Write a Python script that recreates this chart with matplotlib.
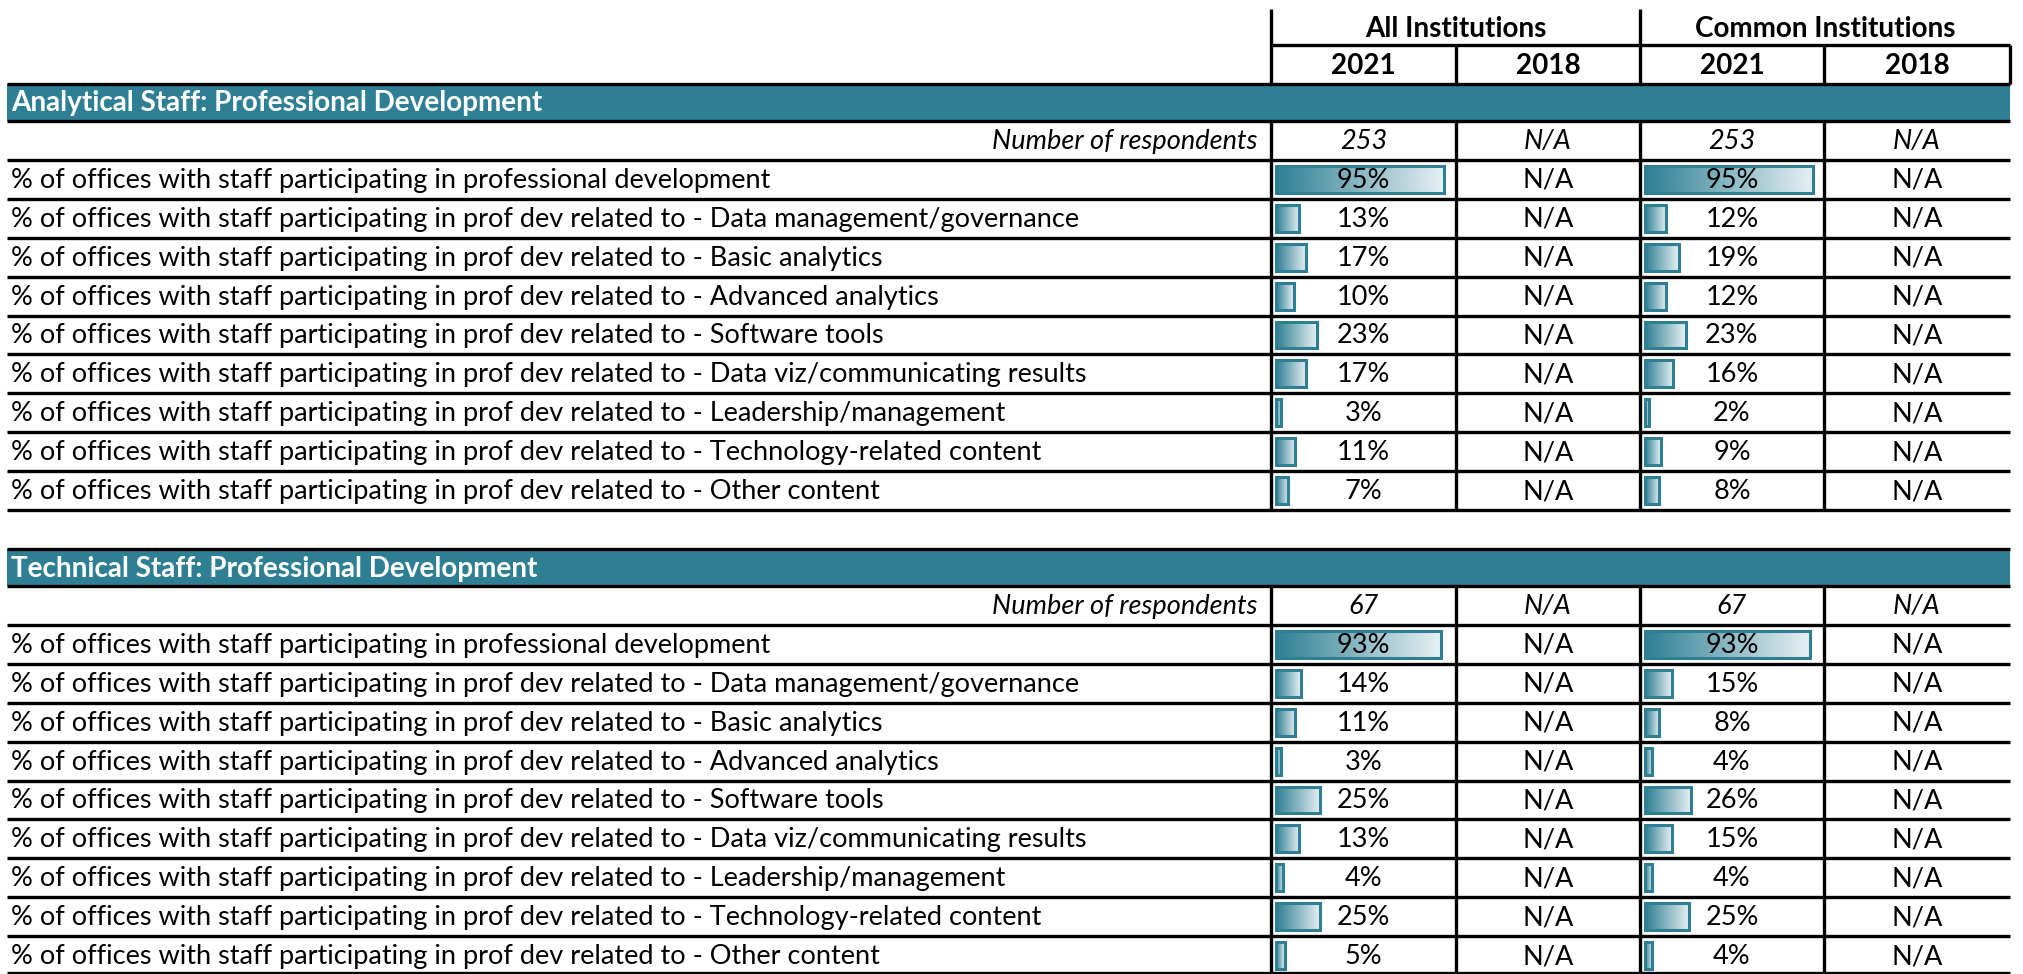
import matplotlib
matplotlib.use("Agg")
import matplotlib.pyplot as plt
import numpy as np
from matplotlib.patches import Rectangle
from matplotlib.colors import LinearSegmentedColormap

# ---------------- data ----------------
section_titles = ["Analytical Staff: Professional Development",
                  "Technical Staff: Professional Development"]
group_labels = ["All Institutions", "Common Institutions"]
year_labels = ["2021", "2018"]
respondents_label = "Number of respondents"
respondents_all_2021 = [253, 67]
respondents_common_2021 = [253, 67]
na_text = "N/A"

prefix = "% of offices with staff participating in prof dev related to - "
row_labels = [
    "% of offices with staff participating in professional development",
    prefix + "Data management/governance",
    prefix + "Basic analytics",
    prefix + "Advanced analytics",
    prefix + "Software tools",
    prefix + "Data viz/communicating results",
    prefix + "Leadership/management",
    prefix + "Technology-related content",
    prefix + "Other content",
]
analytical_all_2021 = [95, 13, 17, 10, 23, 17, 3, 11, 7]
analytical_common_2021 = [95, 12, 19, 12, 23, 16, 2, 9, 8]
technical_all_2021 = [93, 14, 11, 3, 25, 13, 4, 25, 5]
technical_common_2021 = [93, 15, 8, 4, 26, 15, 4, 25, 4]

sections = [
    (section_titles[0], respondents_all_2021[0], respondents_common_2021[0],
     analytical_all_2021, analytical_common_2021),
    (section_titles[1], respondents_all_2021[1], respondents_common_2021[1],
     technical_all_2021, technical_common_2021),
]

# ---------------- style / layout ----------------
TEAL = "#2E7F93"
FONT = "Lato"
W, H = 2023, 974
fig = plt.figure(figsize=(W / 100, H / 100), dpi=100)
ax = fig.add_axes([0, 0, 1, 1])

left_x = 7
col_x = [1271, 1456, 1640, 1824, 2010]
header_top, header_mid, header_bot = 9, 45, 84
sec_tops = [84, 549]
band_h = 37
rh = 38.9
LW = 2.4

cmap = LinearSegmentedColormap.from_list("bar", [TEAL, "#E8F1F4"])
grad = np.linspace(0, 1, 256).reshape(1, -1)

# auto-fit font size to the reference label width
renderer = fig.canvas.get_renderer()
t = ax.text(0, 0, row_labels[5], fontsize=20, family=FONT)
w20 = t.get_window_extent(renderer).width
t.remove()
FS = 20 * (1078 / w20)


def hline(y, x0, x1):
    ax.plot([x0, x1], [y, y], color="black", lw=LW, solid_capstyle="butt", zorder=5)


def vline(x, y0, y1):
    ax.plot([x, x], [y0, y1], color="black", lw=LW, solid_capstyle="butt", zorder=5)


# header
for g, lab in enumerate(group_labels):
    xc = (col_x[2 * g] + col_x[2 * g + 2]) / 2
    ax.text(xc, (header_top + header_mid) / 2 + 2, lab, ha="center", va="center",
            fontsize=FS * 1.03, family=FONT, fontweight="bold")
    for k, yl in enumerate(year_labels):
        c = 2 * g + k
        ax.text((col_x[c] + col_x[c + 1]) / 2, (header_mid + header_bot) / 2 + 1, yl,
                ha="center", va="center", fontsize=FS * 1.03, family=FONT,
                fontweight="bold")
vline(col_x[0], header_top, header_bot)
vline(col_x[2], header_top, header_bot)
vline(col_x[4], header_mid, header_bot)
vline(col_x[1], header_mid, header_bot)
vline(col_x[3], header_mid, header_bot)
hline(header_mid, col_x[0], col_x[4])

bar_max = (col_x[1] - col_x[0]) - 8

for s, (title, n_all, n_com, vals_all, vals_com) in enumerate(sections):
    top = sec_tops[s]
    ax.add_patch(Rectangle((left_x, top), col_x[4] - left_x, band_h,
                           facecolor=TEAL, edgecolor="none", zorder=1))
    ax.text(left_x + 4, top + band_h / 2 + 1, title, ha="left", va="center",
            fontsize=FS * 1.03, family=FONT, fontweight="bold", color="white",
            zorder=6)
    hline(top, left_x, col_x[4])
    rs = top + band_h
    hline(rs, left_x, col_x[4])

    # respondents row
    yc = rs + rh / 2 + 1
    ax.text(col_x[0] - 13, yc, respondents_label, ha="right", va="center",
            fontsize=FS, family=FONT, style="italic")
    row_vals = [str(n_all), na_text, str(n_com), na_text]
    for c, v in enumerate(row_vals):
        ax.text((col_x[c] + col_x[c + 1]) / 2, yc, v, ha="center", va="center",
                fontsize=FS, family=FONT, style="italic")
    hline(rs + rh, left_x, col_x[4])

    for i, lab in enumerate(row_labels):
        y0 = rs + (i + 1) * rh
        yc = y0 + rh / 2 + 1
        ax.text(left_x + 4, yc, lab, ha="left", va="center", fontsize=FS, family=FONT)
        for c, v in ((0, vals_all[i]), (2, vals_com[i])):
            bx = col_x[c] + 5
            bw = bar_max * v / 100
            by0, by1 = y0 + 6, y0 + rh - 6
            ax.imshow(grad, cmap=cmap, extent=[bx, bx + bw, by1, by0],
                      aspect="auto", interpolation="bilinear", zorder=2)
            ax.add_patch(Rectangle((bx, by0), bw, by1 - by0, facecolor="none",
                                   edgecolor=TEAL, lw=2.2, zorder=3))
            ax.text((col_x[c] + col_x[c + 1]) / 2, yc, f"{v}%", ha="center",
                    va="center", fontsize=FS, family=FONT, zorder=6)
        for c in (1, 3):
            ax.text((col_x[c] + col_x[c + 1]) / 2, yc, na_text, ha="center",
                    va="center", fontsize=FS, family=FONT, zorder=6)
        hline(min(y0 + rh, H - 1.5), left_x, col_x[4])

    for c in range(4):
        vline(col_x[c], rs, min(rs + 10 * rh, H))

ax.set_xlim(0, W)
ax.set_ylim(H, 0)
ax.axis("off")
fig.savefig("out.png", dpi=100)
